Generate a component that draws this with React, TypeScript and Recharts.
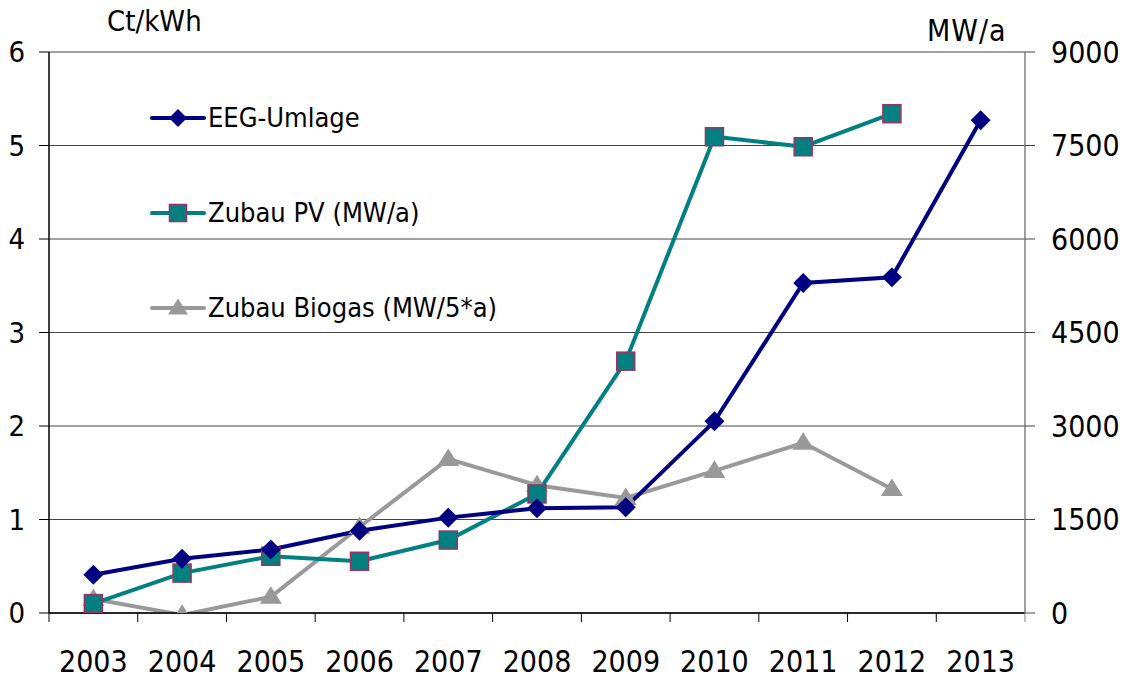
import {
  CartesianGrid,
  Legend,
  Line,
  LineChart,
  XAxis,
  YAxis,
} from "recharts";

const years = ["2003", "2004", "2005", "2006", "2007", "2008", "2009", "2010", "2011", "2012", "2013"];
const eegUmlage = [0.41, 0.58, 0.68, 0.88, 1.02, 1.12, 1.13, 2.05, 3.53, 3.59, 5.27];
const zubauPV = [150, 640, 910, 830, 1170, 1910, 4040, 7640, 7480, 8010, null];
const zubauBiogas = [225, -30, 260, 1380, 2470, 2050, 1845, 2280, 2730, 1990, null];
const leftTicks = [0, 1, 2, 3, 4, 5, 6];
const rightTicks = [0, 1500, 3000, 4500, 6000, 7500, 9000];

const data = years.map((year, i) => ({
  year,
  eeg: eegUmlage[i],
  pv: zubauPV[i],
  biogas: zubauBiogas[i],
}));

const FONT = '"DejaVu Sans Condensed", "DejaVu Sans", sans-serif';
const NAVY = "#000080";
const TEAL = "#008080";
const PV_BORDER = "#993366";
const GRAY = "#999999";

function Diamond({ cx, cy, size = 10 }: { cx?: number; cy?: number; size?: number }) {
  if (cx == null || cy == null) return null;
  return (
    <polygon
      points={`${cx},${cy - size} ${cx + size},${cy} ${cx},${cy + size} ${cx - size},${cy}`}
      fill={NAVY}
    />
  );
}

function Square({ cx, cy, s = 18 }: { cx?: number; cy?: number; s?: number }) {
  if (cx == null || cy == null) return null;
  return (
    <rect
      x={cx - s / 2}
      y={cy - s / 2}
      width={s}
      height={s}
      fill={TEAL}
      stroke={PV_BORDER}
      strokeWidth={1.5}
    />
  );
}

function Triangle({ cx, cy, w = 22 }: { cx?: number; cy?: number; w?: number }) {
  if (cx == null || cy == null) return null;
  const h = w * 0.8;
  return (
    <polygon
      points={`${cx},${cy - h * 0.6} ${cx + w / 2},${cy + h * 0.4} ${cx - w / 2},${cy + h * 0.4}`}
      fill={GRAY}
    />
  );
}

// ticks sit between the categories, labels in the middle
function YearTick(props: any) {
  const { x, y, payload, index } = props;
  const half = payload?.offset ?? 0;
  const last = index === years.length - 1;
  return (
    <g>
      <line x1={x - half} y1={y} x2={x - half} y2={y + 9} stroke="#000" strokeWidth={1} />
      {last && <line x1={x + half} y1={y} x2={x + half} y2={y + 9} stroke="#808080" strokeWidth={1} />}
      <text x={x} y={y + 59} textAnchor="middle" fontFamily={FONT} fontSize={30} fill="#000">
        {payload.value}
      </text>
    </g>
  );
}

const legendItems = [
  { label: "EEG-Umlage", color: NAVY, marker: "diamond" },
  { label: "Zubau PV (MW/a)", color: TEAL, marker: "square" },
  { label: "Zubau Biogas (MW/5*a)", color: GRAY, marker: "triangle" },
];

function ChartLegend() {
  return (
    <div style={{ fontFamily: FONT, fontSize: 27, color: "#000" }}>
      {legendItems.map((item) => (
        <div key={item.label} style={{ display: "flex", alignItems: "center", height: 95 }}>
          <svg width={56} height={24} style={{ marginRight: 2 }}>
            <line x1={2} y1={12} x2={54} y2={12} stroke={item.color} strokeWidth={4} strokeLinecap="round" />
            {item.marker === "diamond" && <Diamond cx={28} cy={12} size={9} />}
            {item.marker === "square" && <Square cx={28} cy={12} s={17} />}
            {item.marker === "triangle" && <Triangle cx={28} cy={12} w={20} />}
          </svg>
          <span>{item.label}</span>
        </div>
      ))}
    </div>
  );
}

export default function App() {
  return (
    <div style={{ position: "absolute", left: 0, top: 0, width: 1123, height: 679, background: "#fff" }}>
      <div style={{ position: "absolute", left: 107, top: 4, fontFamily: FONT, fontSize: 29, color: "#000" }}>
        Ct/kWh
      </div>
      <div
        style={{ position: "absolute", left: 927, top: 13, fontFamily: FONT, fontSize: 30, letterSpacing: 1, color: "#000" }}
      >
        MW/a
      </div>
      <LineChart
        width={1123}
        height={679}
        data={data}
        margin={{ top: 52, right: 0, bottom: 0, left: 0 }}
      >
        <CartesianGrid yAxisId="left" vertical={false} stroke="#444" strokeWidth={1} />
        <XAxis
          dataKey="year"
          scale="band"
          height={66}
          axisLine={{ stroke: "#000", strokeWidth: 1.5 }}
          tickLine={false}
          tickSize={0}
          tickMargin={0}
          interval={0}
          tick={<YearTick />}
        />
        <YAxis
          yAxisId="left"
          width={49}
          domain={[0, 6]}
          ticks={leftTicks}
          axisLine={{ stroke: "#000", strokeWidth: 1.5 }}
          tickLine={{ stroke: "#000" }}
          tickSize={10}
          tickMargin={14}
          tick={{ fontFamily: FONT, fontSize: 29, fill: "#000" }}
        />
        <YAxis
          yAxisId="right"
          orientation="right"
          width={98}
          domain={[0, 9000]}
          allowDataOverflow
          ticks={rightTicks}
          axisLine={{ stroke: "#808080", strokeWidth: 1.5 }}
          tickLine={{ stroke: "#444" }}
          tickSize={10}
          tickMargin={16}
          tick={{ fontFamily: FONT, fontSize: 30, fill: "#000" }}
        />
        <Legend
          layout="vertical"
          align="center"
          verticalAlign="middle"
          wrapperStyle={{ left: 150, top: 70, width: 420 }}
          content={() => <ChartLegend />}
        />
        <Line
          yAxisId="right"
          dataKey="biogas"
          name="Zubau Biogas (MW/5*a)"
          stroke={GRAY}
          strokeWidth={4}
          dot={<Triangle />}
          activeDot={false}
          isAnimationActive={false}
        />
        <Line
          yAxisId="right"
          dataKey="pv"
          name="Zubau PV (MW/a)"
          stroke={TEAL}
          strokeWidth={4}
          dot={<Square />}
          activeDot={false}
          isAnimationActive={false}
        />
        <Line
          yAxisId="left"
          dataKey="eeg"
          name="EEG-Umlage"
          stroke={NAVY}
          strokeWidth={4}
          dot={<Diamond />}
          activeDot={false}
          isAnimationActive={false}
        />
      </LineChart>
    </div>
  );
}
